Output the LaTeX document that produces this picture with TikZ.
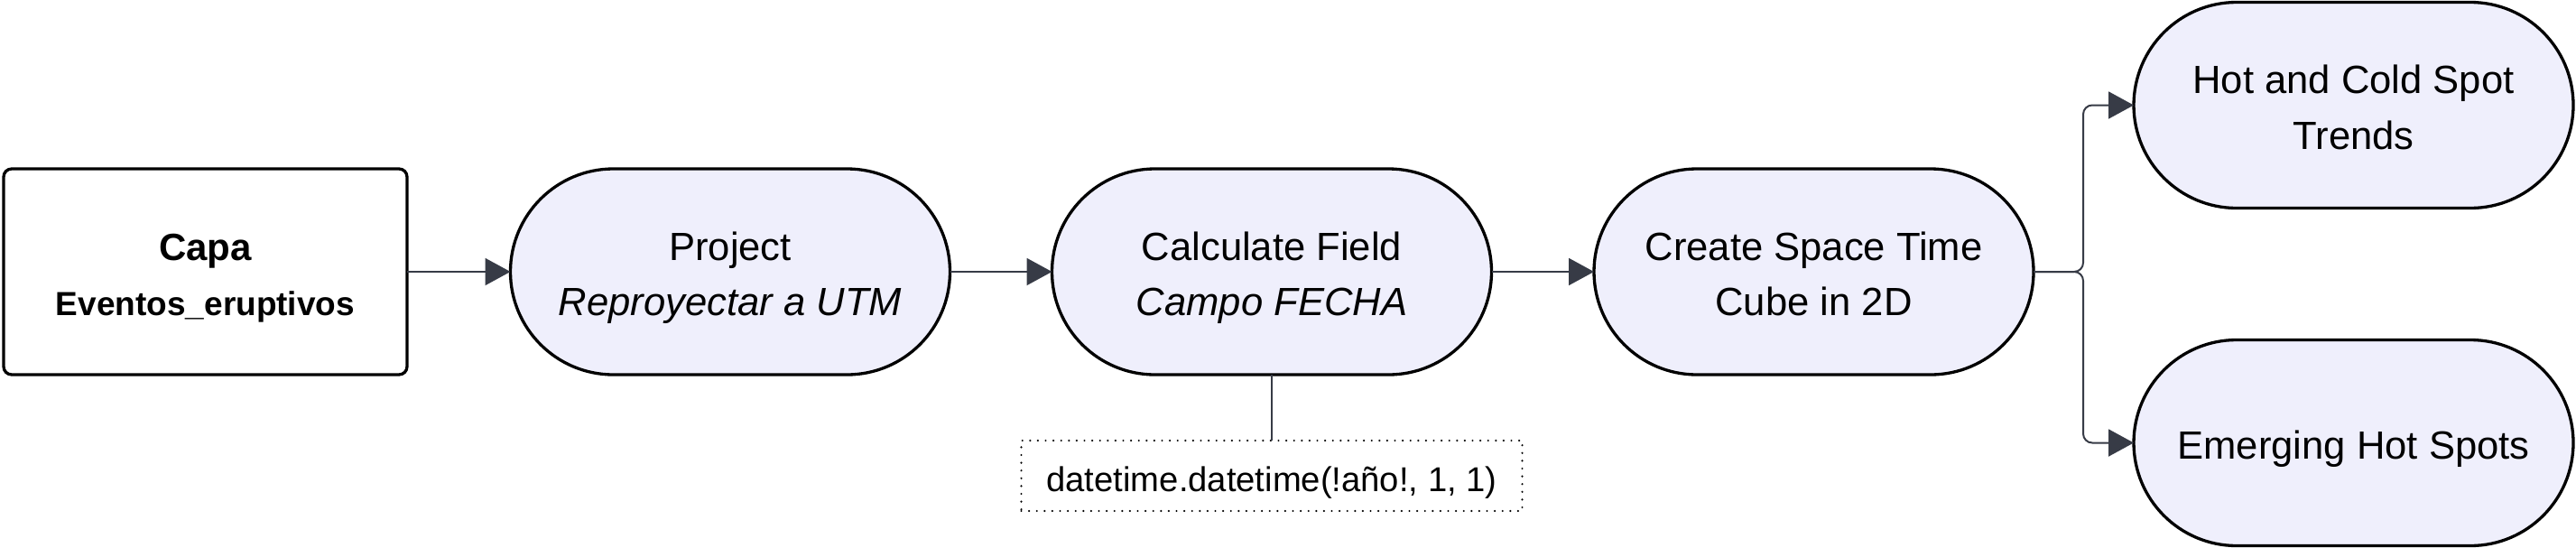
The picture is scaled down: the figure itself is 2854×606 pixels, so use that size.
\documentclass[tikz,border=0pt]{standalone}
\usepackage{fontspec}
\setmainfont{Liberation Sans}
\usetikzlibrary{arrows.meta,backgrounds}
\definecolor{nodefill}{RGB}{239,239,252}
\definecolor{edgecol}{RGB}{55,59,70}
\newcommand\lnst{\rule[-4.75pt]{0pt}{27.25pt}}
\newcommand\ntst{\rule[-4.5pt]{0pt}{26.5pt}}
\begin{document}
\begin{tikzpicture}[x=0.5pt,y=-0.5pt,
 base/.style={inner sep=0pt, outer sep=0pt, align=center, text=black, font=\fontsize{21.8}{30.75}\selectfont},
 boxnode/.style={base, draw=black, line width=1.65pt, rounded corners=4.5pt, fill=white, minimum width=223.5pt, minimum height=114pt},
 stadnode/.style={base, minimum width=243.5pt, minimum height=114pt},
 stadline/.style={fill=nodefill, draw=black, line width=1.65pt},
 notenode/.style={base, draw=black, line width=1.2pt, line cap=round, dash pattern=on 0pt off 4.3pt, minimum width=277.5pt, minimum height=39pt, font=\fontsize{19.1}{24}\selectfont},
 conn/.style={draw=edgecol, line width=1pt},
 arr/.style={conn, -{Triangle[length=14pt,width=15pt]}},
]
\useasboundingbox (0,0) rectangle (2854,606);
\node[boxnode] (capa) at (227.5,301) {\lnst\fontsize{21}{30.75}\selectfont\bfseries Capa\\\lnst\fontsize{18.5}{30.75}\selectfont\bfseries Eventos\_eruptivos};
\node[stadnode] (proj) at (809,301) {\lnst Project\\\lnst\itshape Reproyectar a UTM};
\node[stadnode] (calc) at (1409,301) {\lnst Calculate Field\\\lnst\itshape Campo FECHA};
\node[stadnode] (cube) at (2009.5,301) {\lnst Create Space Time\\\lnst Cube in 2D};
\node[stadnode] (hot) at (2607.5,116.5) {\lnst Hot and Cold Spot\\\lnst Trends};
\node[stadnode] (emer) at (2607.5,490.5) {\lnst Emerging Hot Spots};
\node[notenode] (note) at (1409,527) {\ntst datetime.datetime(!año!, 1, 1)};
\begin{scope}[on background layer]
\foreach \n in {proj,calc,cube,hot,emer}{
  \path[stadline] ([xshift=57pt]\n.north west) -- ([xshift=-57pt]\n.north east)
    arc[start angle=90,end angle=-90,radius=57pt]
    -- ([xshift=57pt]\n.south west)
    arc[start angle=270,end angle=90,radius=57pt] -- cycle;
}
\end{scope}
\draw[arr] (capa) -- (proj);
\draw[arr] (proj) -- (calc);
\draw[arr] (calc) -- (cube);
\draw[conn] (calc.south) -- (note.north);
\draw[arr, rounded corners=5pt] (cube.east) -- ++(55,0) |- (hot.west);
\draw[arr, rounded corners=5pt] (cube.east) -- ++(55,0) |- (emer.west);
\end{tikzpicture}
\end{document}
